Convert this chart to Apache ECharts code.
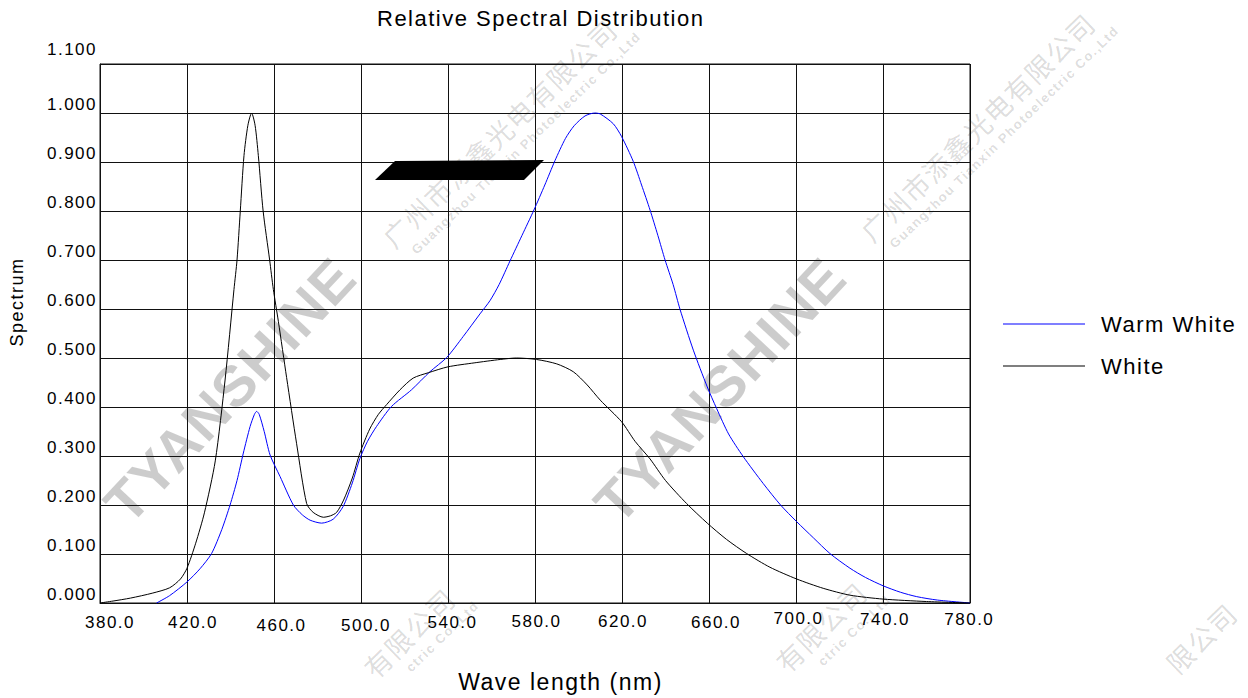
<!DOCTYPE html>
<html>
<head>
<meta charset="utf-8">
<script src="https://cdn.jsdelivr.net/npm/echarts@6/dist/echarts.min.js"></script>
<style>
html,body{margin:0;padding:0;background:#fff;}
#chart{width:1248px;height:698px;}
#chart svg text{letter-spacing:1.5px;}
</style>
</head>
<body>
<div id="chart"></div>
<script>
// ---------- data ----------
const seriesNames = ['Warm White', 'White'];

const whiteWavelength = [380,386,394,404,412,417,420,424,428,433,437.5,441.6,443,444.5,446.2,448,449.7,451.3,452.8,455,458,459.7,462,465.8,470.4,475,478,482.7,486,488.8,492,496,499.5,504,508,511.8,517.9,524,531,540,552,564,571.5,580.7,590,597.6,604,610,619.8,626,632.9,640,649.7,659.2,668,677.3,688,700.3,712.5,724.8,740,760,780];
const whiteValue = [0,0.004,0.01,0.02,0.031,0.049,0.071,0.122,0.184,0.29,0.455,0.64,0.70,0.80,0.913,0.975,1.0,0.975,0.913,0.80,0.70,0.64,0.575,0.46,0.325,0.203,0.185,0.175,0.178,0.185,0.21,0.255,0.306,0.355,0.385,0.405,0.435,0.459,0.47,0.482,0.49,0.497,0.5,0.497,0.488,0.472,0.445,0.414,0.37,0.33,0.294,0.25,0.203,0.163,0.13,0.101,0.073,0.049,0.03,0.016,0.008,0.003,0];

const warmWavelength = [406,412,420,426,431.3,436,439.8,443,445.9,449,451,452,453.2,455.5,458.2,462.8,468.9,473,476.6,481.9,487.2,491.8,496,499.5,503,507.1,514,523.2,531.7,539.4,547,554.7,559.3,563.5,568.5,574,579.5,584.5,589.2,594,598,603,607.5,610,616,619.8,625.2,629,632.9,636.5,639.8,643.5,646.7,652.8,659.2,663.5,669,675.7,684.9,692.9,700.3,708,715.6,724.8,732,740.1,748,755.5,765,780];
const warmValue = [0,0.015,0.043,0.07,0.101,0.15,0.2,0.25,0.306,0.36,0.385,0.391,0.385,0.35,0.302,0.258,0.2,0.18,0.169,0.163,0.171,0.197,0.245,0.295,0.33,0.36,0.401,0.435,0.472,0.501,0.544,0.59,0.617,0.65,0.698,0.75,0.802,0.853,0.903,0.948,0.974,0.994,1.0,0.998,0.978,0.952,0.901,0.853,0.802,0.75,0.7,0.65,0.599,0.516,0.441,0.397,0.345,0.299,0.244,0.2,0.166,0.133,0.101,0.071,0.052,0.035,0.022,0.013,0.006,0];

const xTickValues = [380,420,460,500,540,580,620,660,700,740,780];
const yTickValues = [0,0.1,0.2,0.3,0.4,0.5,0.6,0.7,0.8,0.9,1.0,1.1];

const titleText = 'Relative Spectral Distribution';
const xName = 'Wave length (nm)';
const yName = 'Spectrum';
const watermarkBrand = 'TYANSHINE';
const watermarkCn = '广州市添鑫光电有限公司';
const watermarkEn = 'Guangzhou Tianxin Photoelectric Co.,Ltd';

// ---------- styling / layout ----------
const FONT = '"Liberation Sans", Arial, sans-serif';
// small per-label nudges of the x tick labels, as in the scanned picture: [dx, extra top]
const xLabelNudge = {380:[10,3.5],420:[6,3.5],460:[7.5,6.5],500:[5,6.5],540:[4.5,3.5],580:[1.5,2.5],620:[1,2.5],660:[7,3.5],700:[2.5,0],740:[2,0.5],780:[-0.7,0.5]};

const xRich = {};
xTickValues.forEach(v => {
  const n = xLabelNudge[v] || [0,0];
  const dx = n[0];
  xRich['l' + v] = {
    fontSize: 17, color: '#000', fontFamily: FONT,
    padding: [n[1], dx < 0 ? -2 * dx : 0, 0, dx > 0 ? 2 * dx : 0]
  };
});

const toPairs = (xs, ys) => xs.map((x, i) => [x, ys[i]]);

const deg = Math.PI / 180;
const graphics = [];
const wmFill = 'rgba(0,0,0,0.15)';
// big brand watermarks
[[230, 390], [720, 390]].forEach(p => {
  graphics.push({
    type: 'text', x: p[0], y: p[1], rotation: 47 * deg, z: -10, silent: true,
    style: { text: watermarkBrand, font: 'bold 57px ' + FONT, fill: 'rgba(0,0,0,0.2)',
             align: 'center', verticalAlign: 'middle' }
  });
});
// company watermarks: [end point x, end point y, visible Chinese text, visible English text]
const wmA = 44 * deg;
const dir = [Math.cos(wmA), -Math.sin(wmA)];
const perp = [Math.sin(wmA), Math.cos(wmA)];
[
  [612, 24, watermarkCn, watermarkEn],
  [1090, 18, watermarkCn, watermarkEn],
  [862, 587, '有限公司', 'ctric Co.,Ltd'],
  [450, 593, '有限公司', 'ctric Co.,Ltd'],
  [1232, 608, '限公司', '']
].forEach(w => {
  graphics.push({
    type: 'text', x: w[0], y: w[1], rotation: wmA, z: -10, silent: true,
    style: { text: w[2], font: '27px "Noto Sans CJK SC"', fill: wmFill,
             align: 'right', verticalAlign: 'middle' }
  });
  if (w[3]) {
    graphics.push({
      type: 'text', x: w[0] + 10 + perp[0] * 24, y: w[1] + 10 * dir[1] + perp[1] * 24, rotation: wmA, z: -10, silent: true,
      style: { text: w[3], font: 'bold 13px ' + FONT, fill: wmFill,
               align: 'right', verticalAlign: 'middle' }
    });
  }
});
// black redaction bar
graphics.push({
  type: 'polygon', z: 100, silent: true,
  shape: { points: [[395,161],[544,160],[524,180],[375,180]] },
  style: { fill: '#000' }
});

const chart = echarts.init(document.getElementById('chart'), null, { renderer: 'svg' });
chart.setOption({
  animation: false,
  backgroundColor: '#fff',
  title: {
    text: titleText, left: 377, top: 7, padding: 0,
    textStyle: { fontFamily: FONT, fontSize: 22, fontWeight: 'normal', color: '#000' }
  },
  legend: {
    orient: 'vertical', left: 1003, top: 311, padding: 0,
    icon: 'rect', itemWidth: 82, itemHeight: 1.2, itemGap: 16,
    textStyle: { fontFamily: FONT, fontSize: 22, color: '#000', lineHeight: 26, padding: [0,0,0,11] },
    data: seriesNames
  },
  grid: {
    left: 100, right: 278, top: 64, bottom: 95,
    show: true, borderColor: '#111', borderWidth: 1, backgroundColor: 'transparent'
  },
  xAxis: {
    type: 'value', min: 380, max: 780, interval: 40,
    name: xName, nameLocation: 'middle', nameGap: 67,
    nameTextStyle: { fontFamily: FONT, fontSize: 23, color: '#000', padding: [0,0,0,51] },
    axisLine: { show: true, lineStyle: { color: '#111', width: 1 } },
    axisTick: { show: false },
    splitLine: { show: true, lineStyle: { color: '#111', width: 1 } },
    axisLabel: {
      margin: 7, fontSize: 17, color: '#000', fontFamily: FONT,
      formatter: v => '{l' + Math.round(v) + '|' + v.toFixed(1) + '}',
      rich: xRich
    }
  },
  yAxis: {
    type: 'value', min: 0, max: 1.1, interval: 0.1,
    name: yName, nameLocation: 'middle', nameRotate: 90, nameGap: 74,
    nameTextStyle: { fontFamily: FONT, fontSize: 18, color: '#000', padding: [0,0,0,63] },
    axisLine: { show: true, lineStyle: { color: '#111', width: 1 } },
    axisTick: { show: false },
    splitLine: { show: true, lineStyle: { color: '#111', width: 1 } },
    axisLabel: {
      margin: 3, fontSize: 17, color: '#000', fontFamily: FONT, verticalAlign: 'bottom',
      formatter: v => (v > 1.05 ? '{t|' + v.toFixed(3) + '}' : '{n|' + v.toFixed(3) + '}'),
      rich: {
        n: { fontSize: 17, color: '#000', fontFamily: FONT },
        t: { fontSize: 17, color: '#000', fontFamily: FONT, padding: [0,0,6,0] }
      }
    }
  },
  graphic: graphics,
  series: [
    {
      name: seriesNames[0], type: 'line', data: toPairs(warmWavelength, warmValue),
      symbol: 'none', smooth: 0.25, color: '#0000ff',
      lineStyle: { color: '#0000ff', width: 1 }, z: 3
    },
    {
      name: seriesNames[1], type: 'line', data: toPairs(whiteWavelength, whiteValue),
      symbol: 'none', smooth: 0.25, color: '#000000',
      lineStyle: { color: '#000000', width: 1 }, z: 4
    }
  ]
});
</script>
</body>
</html>
